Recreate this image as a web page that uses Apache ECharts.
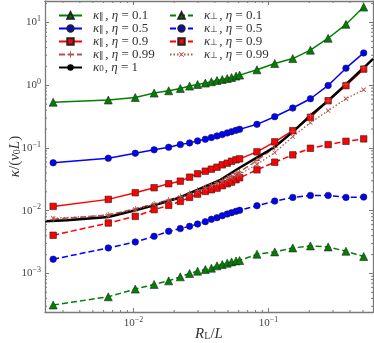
<!DOCTYPE html>
<html>
<head>
<meta charset="utf-8">
<script src="https://cdn.jsdelivr.net/npm/echarts@6/dist/echarts.min.js"></script>
<style>
html, body { margin: 0; padding: 0; background: #fff; }
#chart { width: 374px; height: 343px; }
</style>
</head>
<body>
<div id="chart"></div>
<script>
// R_L / L sample positions (shared by the marker series)
const rl = [0.00254, 0.0065, 0.0103, 0.0142, 0.0182, 0.0222, 0.026, 0.0298, 0.034, 0.0377, 0.0415, 0.0454,
	0.0494, 0.0532, 0.0574, 0.061, 0.082, 0.111, 0.151, 0.204, 0.276, 0.374, 0.506];

// kappa parallel
const parEta01 = [0.536, 0.581, 0.638, 0.750, 0.816, 0.889, 0.969, 1.028, 1.082, 1.135, 1.190, 1.234,
	1.280, 1.328, 1.398, 1.449, 1.760, 2.216, 2.66, 3.62, 5.61, 9.36, 17.6];
const parEta05 = [0.0580, 0.0686, 0.0824, 0.0933, 0.1026, 0.1132, 0.1205, 0.1297, 0.1375, 0.1463, 0.1556, 0.1632,
	0.1737, 0.182, 0.191, 0.198, 0.238, 0.315, 0.433, 0.609, 0.991, 1.87, 3.27];
const parEta09 = [0.01172, 0.01516, 0.01935, 0.02323, 0.02691, 0.02958, 0.03424, 0.03879, 0.04265, 0.04592, 0.04935, 0.05389,
	0.05715, 0.06148, 0.06471, 0.06714, 0.0867, 0.125, 0.189, 0.3076, 0.566, 0.984, 1.806];
const parEta099 = [0.00729, 0.00859, 0.01069, 0.01285, 0.01487, 0.0169, 0.0189, 0.0211, 0.0235, 0.0258, 0.0282, 0.0303,
	0.0333, 0.0358, 0.0392, 0.0414, 0.0631, 0.1014, 0.182, 0.327, 0.566, 1.035, 1.89];

// kappa perpendicular
const perpEta01 = [0.000314, 0.000425, 0.000563, 0.000669, 0.000762, 0.000883, 0.001, 0.001089, 0.001158, 0.001214, 0.001321, 0.00139,
	0.001458, 0.001529, 0.001585, 0.001609, 0.002027, 0.002205, 0.002551, 0.002745, 0.002647, 0.00226, 0.001862];
const perpEta05 = [0.001687, 0.002551, 0.003178, 0.003912, 0.004694, 0.005184, 0.005636, 0.006134, 0.006697, 0.007289, 0.007754, 0.008342,
	0.008849, 0.009312, 0.009767, 0.01013, 0.01203, 0.01423, 0.01629, 0.01753, 0.01753, 0.01629, 0.01648];
const perpEta09 = [0.00406, 0.00637, 0.00813, 0.01039, 0.01216, 0.01408, 0.0163, 0.01839, 0.0203, 0.0216, 0.0229, 0.025,
	0.02691, 0.02851, 0.03114, 0.0335, 0.04488, 0.05929, 0.07767, 0.0989, 0.1132, 0.1277, 0.1396];
const perpEta099 = [0.00757, 0.00844, 0.0105, 0.01262, 0.01432, 0.0163, 0.0182, 0.0203, 0.0226, 0.0244, 0.0267, 0.0287,
	0.0309, 0.0333, 0.0358, 0.0378, 0.0545, 0.0845, 0.152, 0.253, 0.393, 0.609, 0.847];

// kappa_0, eta = 1 (plain line)
const kappa0X = [0.00222, 0.00321, 0.0065, 0.0103, 0.0142, 0.0218, 0.044, 0.0618, 0.0866, 0.110, 0.155, 0.203, 0.276, 0.375, 0.508, 0.593];
const kappa0Y = [0.00678, 0.00703, 0.00793, 0.01015, 0.01217, 0.0161, 0.0311, 0.0493, 0.0757, 0.1026, 0.189, 0.327, 0.566, 1.043, 1.914, 2.63];

// axes
const xMin = 0.00221, xMax = 0.593;
const yMin = 0.000243, yMax = 22;
const xMinor = [0.003, 0.004, 0.005, 0.006, 0.007, 0.008, 0.009, 0.02, 0.03, 0.04, 0.05, 0.06, 0.07, 0.08, 0.09, 0.2, 0.3, 0.4, 0.5];
const yMinor = [0.0003, 0.0004, 0.0005, 0.0006, 0.0007, 0.0008, 0.0009, 0.002, 0.003, 0.004, 0.005, 0.006, 0.007, 0.008, 0.009,
	0.02, 0.03, 0.04, 0.05, 0.06, 0.07, 0.08, 0.09, 0.2, 0.3, 0.4, 0.5, 0.6, 0.7, 0.8, 0.9, 2, 3, 4, 5, 6, 7, 8, 9, 20];

const SERIF = 'Liberation Serif';
const spine = '#7a7a7a';
const brown = '#b9504a';
const PLUS = 'path://M4.3,0h1.4v10h-1.4zM0,4.3h10v1.4h-10z';

const legendText = {
	'par01': '{g|}{i|κ}{s|∥}{n|, }{i|η}{n| = 0.1}',
	'par05': '{g|}{i|κ}{s|∥}{n|, }{i|η}{n| = 0.5}',
	'par09': '{g|}{i|κ}{s|∥}{n|, }{i|η}{n| = 0.9}',
	'par099': '{g|}{i|κ}{s|∥}{n|, }{i|η}{n| = 0.99}',
	'k0': '{g|}{i|κ}{s|0}{n|, }{i|η}{n| = 1}',
	'perp01': '{g|}{i|κ}{s|⊥}{n|, }{i|η}{n| = 0.1}',
	'perp05': '{g|}{i|κ}{s|⊥}{n|, }{i|η}{n| = 0.5}',
	'perp09': '{g|}{i|κ}{s|⊥}{n|, }{i|η}{n| = 0.9}',
	'perp099': '{g|}{i|κ}{s|⊥}{n|, }{i|η}{n| = 0.99}'
};
const legendRich = {
	g: { width: 6 },
	i: { fontFamily: SERIF, fontStyle: 'italic', fontSize: 13, color: '#333', lineHeight: 12 },
	n: { fontFamily: SERIF, fontSize: 13, color: '#333', lineHeight: 12 },
	s: { fontFamily: SERIF, fontSize: 9, color: '#333', lineHeight: 6, verticalAlign: 'bottom', padding: [0, 1, 0, 0] }
};
const nameRich = {
	i: { fontFamily: SERIF, fontStyle: 'italic', fontSize: 15, color: '#333', lineHeight: 14 },
	n: { fontFamily: SERIF, fontSize: 15, color: '#333', lineHeight: 14 },
	sub: { fontFamily: SERIF, fontSize: 10, color: '#333', lineHeight: 7, verticalAlign: 'bottom' }
};

function pairs(xs, ys) {
	return xs.map((x, i) => [x, ys[i]]);
}

function markerSeries(name, ys, color, symbol, size, dashed, extra) {
	return Object.assign({
		name: name,
		type: 'line',
		data: pairs(rl, ys),
		symbol: symbol,
		symbolSize: size,
		itemStyle: { color: color, borderColor: '#222', borderWidth: 0.6 },
		lineStyle: { color: color, width: 1.5, type: dashed ? [6, 3] : 'solid' },
		emphasis: { disabled: true },
		animation: false
	}, extra || {});
}

function powLabel(v) {
	const e = Math.round(Math.log10(v));
	if (Math.abs(Math.log10(v) - e) > 1e-6) return '';
	return '{b|10}{sup|' + (e < 0 ? '−' + (-e) : e) + '}';
}
const tickRich = {
	b: { fontFamily: SERIF, fontSize: 11, color: '#444' },
	sup: { fontFamily: SERIF, fontSize: 8, color: '#444', padding: [0, 0, 7, 0] }
};

function logAxis(min, max, pos, showLabel) {
	return {
		type: 'log',
		logBase: 10,
		min: min,
		max: max,
		position: pos,
		axisLine: { show: true, lineStyle: { color: spine, width: 1.3 } },
		axisTick: { show: true, inside: true, length: 4, lineStyle: { color: spine, width: 1 } },
		splitLine: { show: false },
		minorTick: { show: false },
		axisLabel: {
			show: showLabel,
			formatter: powLabel,
			rich: tickRich,
			margin: 4,
			showMinLabel: false,
			showMaxLabel: false
		}
	};
}

function minorTicks(vals, isX) {
	return {
		type: 'custom',
		silent: true,
		animation: false,
		clip: false,
		z: 5,
		data: vals.map(v => isX ? [v, 1] : [0.01, v]),
		renderItem: function (params, api) {
			const cs = params.coordSys;
			const p = api.coord([api.value(0), api.value(1)]);
			const st = { stroke: spine, lineWidth: 1 };
			if (isX) {
				return {
					type: 'group', children: [
						{ type: 'line', shape: { x1: p[0], y1: cs.y + cs.height, x2: p[0], y2: cs.y + cs.height - 2 }, style: st },
						{ type: 'line', shape: { x1: p[0], y1: cs.y, x2: p[0], y2: cs.y + 2 }, style: st }
					]
				};
			}
			return {
				type: 'group', children: [
					{ type: 'line', shape: { x1: cs.x, y1: p[1], x2: cs.x + 2, y2: p[1] }, style: st },
					{ type: 'line', shape: { x1: cs.x + cs.width, y1: p[1], x2: cs.x + cs.width - 2, y2: p[1] }, style: st }
				]
			};
		}
	};
}

const chart = echarts.init(document.getElementById('chart'));

const option = {
	backgroundColor: '#fff',
	animation: false,
	grid: { left: 45, right: 1, top: 1, bottom: 31, outerBoundsMode: 'none', containLabel: false },
	xAxis: [
		Object.assign(logAxis(xMin, xMax, 'bottom', true), {
			name: '{i|R}{sub|L}{n|/}{i|L}',
			nameLocation: 'middle',
			nameGap: 15,
			nameMoveOverlap: false,
			nameTextStyle: { rich: nameRich }
		}),
		logAxis(xMin, xMax, 'top', false)
	],
	yAxis: [
		Object.assign(logAxis(yMin, yMax, 'left', true), {
			name: '{i|κ}{n|/(}{i|v}{sub|0}{i|L}{n|)}',
			nameLocation: 'middle',
			nameGap: 23,
			nameRotate: 90,
			nameMoveOverlap: false,
			nameTextStyle: { rich: nameRich }
		}),
		logAxis(yMin, yMax, 'right', false)
	],
	legend: [
		{
			data: ['par01', 'par05', 'par09', 'par099', 'k0'],
			orient: 'vertical',
			left: 53,
			top: 4,
			itemWidth: 23,
			itemHeight: 8,
			itemGap: 0,
			formatter: n => legendText[n],
			textStyle: { rich: legendRich }
		},
		{
			data: ['perp01', 'perp05', 'perp09', 'perp099'],
			orient: 'vertical',
			left: 164,
			top: 4,
			itemWidth: 23,
			itemHeight: 8,
			itemGap: 0,
			formatter: n => legendText[n],
			textStyle: { rich: legendRich }
		}
	],
	series: [
		markerSeries('par01', parEta01, '#008000', 'triangle', 8, false),
		markerSeries('par05', parEta05, '#0000ff', 'circle', 6.5, false),
		markerSeries('par09', parEta09, '#ff0000', 'rect', 6.5, false),
		markerSeries('par099', parEta099, brown, PLUS, 6, true, {
			itemStyle: { color: brown }
		}),
		{
			name: 'k0',
			type: 'line',
			data: pairs(kappa0X, kappa0Y),
			showSymbol: false,
			symbol: 'none',
			lineStyle: { color: '#000', width: 2.5 },
			itemStyle: { color: '#000' },
			emphasis: { disabled: true }
		},
		markerSeries('perp01', perpEta01, '#008000', 'triangle', 8, true),
		markerSeries('perp05', perpEta05, '#0000ff', 'circle', 6.5, true),
		markerSeries('perp09', perpEta09, '#ff0000', 'rect', 6.5, true),
		markerSeries('perp099', perpEta099, brown, PLUS, 6, false, {
			symbolRotate: 45,
			itemStyle: { color: brown },
			lineStyle: { color: brown, width: 1.3, type: [1.5, 2] }
		}),
		minorTicks(xMinor, true),
		minorTicks(yMinor, false)
	]
};

chart.setOption(option);
</script>
</body>
</html>
